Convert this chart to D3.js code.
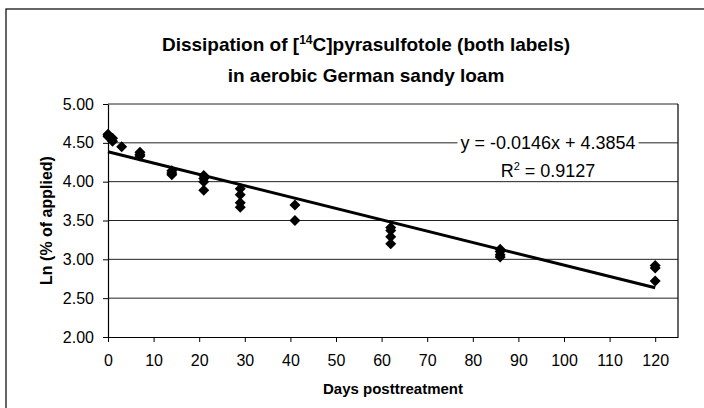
<!DOCTYPE html>
<html>
<head>
  <meta charset="utf-8">
  <title>Dissipation of pyrasulfotole</title>
  <script src="https://d3js.org/d3.v7.min.js"></script>
  <style>
    body { margin: 0; background: #fff; }
    svg text { font-family: "Liberation Sans", Arial, sans-serif; fill: #000; }
    .axis path, .axis line { stroke: #000; }
    .axis text { font-size: 16px; }
  </style>
</head>
<body>
  <div id="chart"></div>
  <script>
    // days posttreatment and ln(% of applied), one entry per replicate
    var days = [0, 0, 0, 1, 1, 3, 7, 7, 7, 14, 14, 14, 21, 21, 21, 21,
                29, 29, 29, 29, 41, 41, 62, 62, 62, 62, 86, 86, 86, 86, 120, 120, 120];
    var lnValues = [4.61, 4.60, 4.58, 4.56, 4.52, 4.45, 4.38, 4.35, 4.33, 4.14, 4.11, 4.09,
                    4.08, 4.04, 4.00, 3.89, 3.91, 3.83, 3.73, 3.67, 3.70, 3.50,
                    3.41, 3.37, 3.29, 3.20, 3.13, 3.10, 3.06, 3.03, 2.92, 2.89, 2.72];
    var xTicks = [0, 10, 20, 30, 40, 50, 60, 70, 80, 90, 100, 110, 120];
    var yTicks = [2.0, 2.5, 3.0, 3.5, 4.0, 4.5, 5.0];
    var slope = -0.0146, intercept = 4.3854;
    var trendX = [0, 120];

    var largura = 704, altura = 408;
    var margin = {top: 104, right: 26, bottom: 71, left: 108};
    var w = largura - margin.left - margin.right,
        h = altura - margin.top - margin.bottom;

    var svg = d3.select('#chart').append('svg')
        .attr('width', largura)
        .attr('height', altura);

    // moldura do grafico
    svg.append('rect')
      .attr('x', 6).attr('y', 9)
      .attr('width', largura + 20).attr('height', altura + 20)
      .attr('fill', 'none').attr('stroke', '#000').attr('stroke-width', 1.2);

    var g = svg.append('g')
        .attr('transform', 'translate(' + margin.left + ',' + margin.top + ')');

    var x = d3.scaleLinear().domain([0, 125]).range([0, w]);
    var y = d3.scaleLinear().domain([2, 5]).range([h, 0]);

    // linhas de grade
    g.selectAll('.grid')
      .data(yTicks.filter(d => d > 2))
      .enter().append('line')
        .attr('class', 'grid')
        .attr('x1', 0).attr('x2', w)
        .attr('y1', d => y(d)).attr('y2', d => y(d))
        .attr('stroke', '#222').attr('stroke-width', 1);

    // borda direita da area
    g.append('line')
      .attr('x1', w).attr('x2', w).attr('y1', 0).attr('y2', h)
      .attr('stroke', '#000').attr('stroke-width', 1.2);

    g.append('g')
      .attr('class', 'axis')
      .attr('transform', 'translate(0,' + h + ')')
      .call(d3.axisBottom(x).tickValues(xTicks).tickSize(5).tickPadding(13).tickSizeOuter(0))
      .call(a => a.select('.domain').attr('stroke-width', 1.2));

    g.append('g')
      .attr('class', 'axis')
      .call(d3.axisLeft(y).tickValues(yTicks).tickFormat(d3.format('.2f'))
              .tickSize(5).tickPadding(9).tickSizeOuter(0))
      .call(a => a.select('.domain').attr('stroke-width', 1.2));

    // linha de tendencia
    g.append('line')
      .attr('x1', x(trendX[0])).attr('y1', y(intercept + slope * trendX[0]))
      .attr('x2', x(trendX[1])).attr('y2', y(intercept + slope * trendX[1]))
      .attr('stroke', '#000').attr('stroke-width', 3);

    // pontos (losangos)
    var s = 5.5;
    g.selectAll('.dot')
      .data(days.map((d, i) => ({dia: d, valor: lnValues[i]})))
      .enter().append('path')
        .attr('class', 'dot')
        .attr('transform', d => 'translate(' + x(d.dia) + ',' + y(d.valor) + ')')
        .attr('d', 'M0,' + (-s) + 'L' + s + ',0L0,' + s + 'L' + (-s) + ',0Z')
        .attr('fill', '#000');

    // equacao (fundo branco por tras do texto)
    var fundo = g.append('rect').attr('fill', '#fff');
    var eq = g.append('text')
      .attr('x', 440).attr('y', y(4.5) + 6)
      .attr('text-anchor', 'middle')
      .style('font-size', '18px')
      .text('y = -0.0146x + 4.3854');
    var bb = eq.node().getBBox();
    fundo.attr('x', bb.x - 3).attr('y', bb.y + 3)
      .attr('width', bb.width + 6).attr('height', bb.height - 6);

    var r2 = g.append('text')
      .attr('x', 440).attr('y', y(4.5) + 34)
      .attr('text-anchor', 'middle')
      .style('font-size', '18px');
    r2.append('tspan').text('R');
    r2.append('tspan').attr('dy', -7).style('font-size', '11px').text('2');
    r2.append('tspan').attr('dy', 7).text(' = 0.9127');

    // titulos
    var titulo = svg.append('text')
      .attr('x', 366).attr('y', 51)
      .attr('text-anchor', 'middle')
      .style('font-size', '19px').style('font-weight', 'bold');
    titulo.append('tspan').text('Dissipation of [');
    titulo.append('tspan').attr('dy', -7).style('font-size', '12px').text('14');
    titulo.append('tspan').attr('dy', 7).text('C]pyrasulfotole (both labels)');
    svg.append('text')
      .attr('x', 366).attr('y', 82)
      .attr('text-anchor', 'middle')
      .style('font-size', '19px').style('font-weight', 'bold')
      .text('in aerobic German sandy loam');

    svg.append('text')
      .attr('x', margin.left + w / 2).attr('y', 394)
      .attr('text-anchor', 'middle')
      .style('font-size', '15px').style('font-weight', 'bold')
      .text('Days posttreatment');

    svg.append('text')
      .attr('transform', 'translate(52,' + (margin.top + h / 2) + ') rotate(-90)')
      .attr('text-anchor', 'middle')
      .style('font-size', '16px').style('font-weight', 'bold')
      .text('Ln (% of applied)');
  </script>
</body>
</html>
